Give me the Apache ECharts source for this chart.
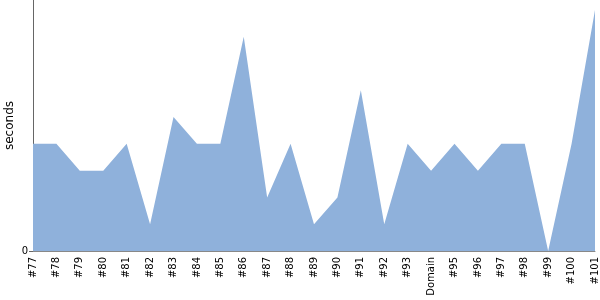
<!DOCTYPE html>
<html><head><meta charset="utf-8">
<script src="https://cdn.jsdelivr.net/npm/echarts@6/dist/echarts.min.js"></script>
<style>html,body{margin:0;padding:0;background:#fff}#c{width:600px;height:300px}</style>
</head><body><div id="c"></div>
<script>
const categories = ['#77','#78','#79','#80','#81','#82','#83','#84','#85','#86','#87','#88','#89','#90','#91','#92','#93','Domain','#95','#96','#97','#98','#99','#100','#101'];
const seconds = [4,4,3,3,4,1,5,4,4,8,2,4,1,2,6,1,4,3,4,3,4,4,0,4,9];
const yTicks = [0];
const chart = echarts.init(document.getElementById('c'));
chart.setOption({
  animation:false,
  grid:{left:33,right:5,top:0,bottom:49,containLabel:false,outerBoundsMode:'none'},
  xAxis:{type:'category',data:categories,boundaryGap:false,
    axisLine:{lineStyle:{color:'#888',width:1}},
    axisTick:{show:false},
    axisLabel:{rotate:90,interval:0,color:'#000',fontFamily:'DejaVu Sans',fontSize:10,margin:6}},
  yAxis:{type:'value',min:0,max:9.37,name:'seconds',nameLocation:'middle',nameGap:17,nameMoveOverlap:false,
    nameTextStyle:{color:'#000',fontFamily:'DejaVu Sans',fontSize:12},
    axisLine:{show:true,lineStyle:{color:'#666',width:1}},
    axisTick:{show:true,length:4,customValues:yTicks,lineStyle:{color:'#666'}},
    axisLabel:{customValues:yTicks,color:'#000',fontFamily:'DejaVu Sans',fontSize:10,margin:5},
    splitLine:{show:false}},
  series:[{type:'line',data:seconds,symbol:'none',lineStyle:{width:0},
    areaStyle:{color:'#8fb1db',opacity:1}}]
});
</script></body></html>
